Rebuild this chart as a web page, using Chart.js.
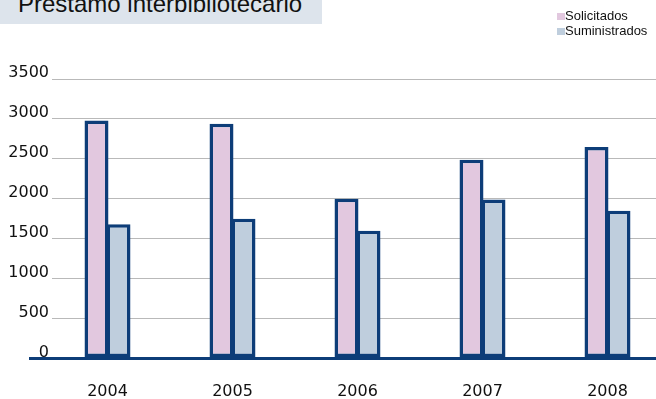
<!DOCTYPE html>
<html>
<head>
<meta charset="utf-8">
<script src="https://cdn.jsdelivr.net/npm/chart.js@4.4.0/dist/chart.umd.min.js"></script>
<style>
body { margin: 0; background: #fff; overflow: hidden; }
#wrap { position: relative; width: 656px; height: 399px; }
#titulo { position: absolute; left: 0; top: 0; width: 322px; height: 24px; background: #dde4ec; overflow: hidden; }
#titulo span { position: absolute; left: 18px; top: -8px; font: 24px/24px 'Liberation Sans', Arial, sans-serif; color: #111; white-space: nowrap; }
#leyenda { position: absolute; left: 557px; top: 8px; font: 13px/15px 'Liberation Sans', Arial, sans-serif; color: #111; }
#leyenda div { position: relative; padding-left: 8px; white-space: nowrap; }
#leyenda i { position: absolute; left: 0; top: 5px; width: 8px; height: 7px; }
</style>
</head>
<body>
<div id="wrap">
  <canvas id="grafico" width="656" height="399"></canvas>
  <div id="titulo"><span>Préstamo interbibliotecario</span></div>
  <div id="leyenda"></div>
</div>
<script>
// datos
var anios = [2004, 2005, 2006, 2007, 2008];
var solicitados = [2980, 2940, 2000, 2490, 2650];
var suministrados = [1680, 1750, 1600, 1990, 1850];
var ticksY = [0, 500, 1000, 1500, 2000, 2500, 3000, 3500];
var nombres = ['Solicitados', 'Suministrados'];

var azul = '#0d3d78';
var colores = ['#e2c8df', '#bfcedd'];

// leyenda en html
var leyenda = document.getElementById('leyenda');
nombres.forEach(function(n, i){
  var d = document.createElement('div');
  d.innerHTML = '<i style="background:' + colores[i] + '"></i>' + n;
  leyenda.appendChild(d);
});

function puntos(valores) {
  return anios.map(function(a, i){ return { x: a, y: valores[i] }; });
}

Chart.defaults.font.family = 'DejaVu Sans';
Chart.defaults.font.size = 16;
Chart.defaults.color = '#111';

var ctx = document.getElementById('grafico');
var myChart = new Chart(ctx, {
  type: 'bar',
  data: {
    datasets: [{
      label: nombres[0],
      data: puntos(solicitados),
      backgroundColor: colores[0],
      borderColor: azul,
      borderWidth: 3.5,
      borderSkipped: false,
      categoryPercentage: 0.352,
      barPercentage: 1.09,
    }, {
      label: nombres[1],
      data: puntos(suministrados),
      backgroundColor: colores[1],
      borderColor: azul,
      borderWidth: 3.5,
      borderSkipped: false,
      categoryPercentage: 0.352,
      barPercentage: 1.09,
    }]
  },
  options: {
    responsive: false,
    animation: false,
    events: [],
    layout: {
      padding: { top: 79, left: 0, right: 0, bottom: 0 }
    },
    plugins: {
      legend: { display: false },
      tooltip: { enabled: false },
    },
    scales: {
      x: {
        type: 'linear',
        offset: false,
        min: 2003.556,
        max: 2008.388,
        afterBuildTicks: function(s){
          s.ticks = anios.map(function(a){ return { value: a }; });
        },
        afterFit: function(s){ s.height = 40.5; },
        border: { display: false },
        grid: { display: false, drawTicks: false },
        ticks: {
          padding: 24,
          autoSkip: false,
          maxRotation: 0,
          callback: function(v){ return String(v); },
        }
      },
      y: {
        min: 0,
        max: 3500,
        afterBuildTicks: function(s){
          s.ticks = ticksY.map(function(v){ return { value: v }; });
        },
        afterFit: function(s){ s.width = 52; },
        border: { display: false },
        grid: {
          color: function(c){ return c.tick && c.tick.value === 0 ? azul : '#b9b9b9'; },
          lineWidth: function(c){ return c.tick && c.tick.value === 0 ? 3 : 1; },
          tickColor: function(c){ return c.tick && c.tick.value === 0 ? azul : 'transparent'; },
          tickLength: 23,
          tickWidth: 3,
          drawTicks: true,
        },
        ticks: {
          padding: -20,
          labelOffset: -6,
          callback: function(v){ return String(v); },
        }
      }
    }
  }
});
</script>
</body>
</html>
